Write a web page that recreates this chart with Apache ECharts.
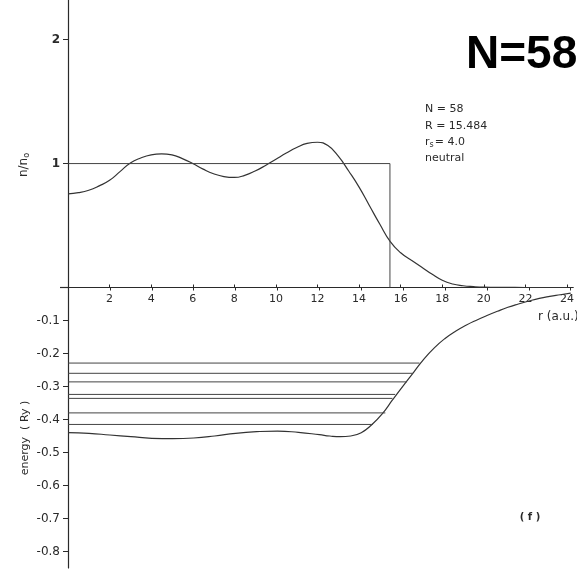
<!DOCTYPE html>
<html>
<head>
<meta charset="utf-8">
<script src="https://cdn.jsdelivr.net/npm/echarts@6/dist/echarts.min.js"></script>
<style>html,body{margin:0;padding:0;background:#fff}#c{width:577px;height:577px}</style>
</head>
<body>
<div id="c"></div>
<script>
// ---- data ----
const densityR   = [0, 0.5, 1, 1.5, 2, 2.5, 3, 3.5, 4, 4.5, 5, 5.5, 6, 6.5, 7, 7.5, 8, 8.5, 9, 9.5, 10, 10.5, 11, 11.5, 12, 12.5, 13, 13.5, 14, 14.5, 15, 15.5, 16, 16.5, 17, 17.5, 18, 18.5, 19, 19.5, 20, 21, 22, 23, 24];
const densityN   = [0.755, 0.765, 0.785, 0.82, 0.865, 0.935, 1.005, 1.045, 1.07, 1.078, 1.07, 1.04, 1.0, 0.955, 0.918, 0.895, 0.888, 0.905, 0.94, 0.985, 1.035, 1.085, 1.13, 1.163, 1.172, 1.145, 1.06, 0.94, 0.81, 0.66, 0.51, 0.37, 0.28, 0.222, 0.165, 0.108, 0.058, 0.028, 0.014, 0.007, 0.003, 0.001, 0, 0, 0];
const jelliumR   = 15.484;          // step edge R
const stepR      = [0, jelliumR, jelliumR];
const stepN      = [1, 1, 0];
const potentialR = [0, 1, 2, 3, 4, 5, 6, 7, 8, 9, 10, 11, 12, 12.5, 13, 13.5, 14, 14.5, 15, 15.5, 16, 16.5, 17, 17.5, 18, 18.5, 19, 19.5, 20, 20.5, 21, 21.5, 22, 22.5, 23, 23.5, 24];
const potentialE = [-0.440, -0.442, -0.447, -0.452, -0.457, -0.458, -0.456, -0.450, -0.442, -0.437, -0.435, -0.439, -0.446, -0.450, -0.452, -0.450, -0.440, -0.416, -0.383, -0.340, -0.298, -0.257, -0.216, -0.182, -0.1545, -0.1325, -0.1145, -0.099, -0.085, -0.072, -0.060, -0.050, -0.041, -0.033, -0.027, -0.022, -0.017];
const levelE     = [-0.229, -0.260, -0.286, -0.324, -0.336, -0.380, -0.415];
const levelEndR  = [16.78, 16.47, 16.18, 15.62, 15.49, 15.15, 14.56];
const rTicks     = [2, 4, 6, 8, 10, 12, 14, 16, 18, 20, 22, 24];
const nTicks     = [1, 2];
const eTicks     = [-0.1, -0.2, -0.3, -0.4, -0.5, -0.6, -0.7, -0.8];

// ---- build ----
const zip = (a, b) => a.map((v, i) => [v, b[i]]);
const levelData = [];
levelE.forEach((e, i) => { levelData.push([0, e], [levelEndR[i], e], '-'); });

const INK = '#2a2a2a';
const FONT = 'DejaVu Sans';
const chart = echarts.init(document.getElementById('c'), null, {renderer: 'canvas'});
chart.setOption({
  animation: false,
  backgroundColor: '#fff',
  grid: [
    {left: 68, top: 0, width: 510, height: 287.5},
    {left: 68, top: 287.5, width: 510, height: 280.5}
  ],
  xAxis: [
    {gridIndex: 0, type: 'value', min: 0, max: 24.3, position: 'bottom',
     axisLine: {show: true, onZero: false, lineStyle: {color: INK, width: 1.2}},
     axisTick: {show: true, inside: true, length: 3, customValues: rTicks, lineStyle: {color: INK, width: 1}},
     axisLabel: {show: true, customValues: rTicks, margin: 6, color: INK, fontFamily: FONT, fontSize: 11},
     splitLine: {show: false}},
    {gridIndex: 1, type: 'value', min: 0, max: 24.3, position: 'top',
     axisLine: {show: false, onZero: false},
     axisTick: {show: true, inside: true, length: 3, customValues: rTicks, lineStyle: {color: INK, width: 1}},
     axisLabel: {show: false},
     splitLine: {show: false}}
  ],
  yAxis: [
    {gridIndex: 0, type: 'value', min: 0, max: 2.32,
     axisLine: {show: true, onZero: false, lineStyle: {color: INK, width: 1.2}},
     axisTick: {show: true, length: 5, customValues: nTicks, lineStyle: {color: INK}},
     axisLabel: {show: true, customValues: nTicks, margin: 8, color: INK, fontFamily: FONT, fontSize: 12, fontWeight: 'bold'},
     splitLine: {show: false}},
    {gridIndex: 1, type: 'value', min: -0.85, max: 0,
     axisLine: {show: true, onZero: false, lineStyle: {color: INK, width: 1.2}},
     axisTick: {show: true, length: 5, customValues: eTicks, lineStyle: {color: INK}},
     axisLabel: {show: true, customValues: eTicks, margin: 8, color: INK, fontFamily: FONT, fontSize: 12,
                 formatter: v => v.toFixed(1)},
     splitLine: {show: false}}
  ],
  series: [
    {type: 'line', xAxisIndex: 0, yAxisIndex: 0, data: zip(densityR, densityN), smooth: 0.5,
     symbol: 'none', lineStyle: {color: '#333', width: 1.2}},
    {type: 'line', xAxisIndex: 0, yAxisIndex: 0, data: zip(stepR, stepN),
     symbol: 'none', lineStyle: {color: '#444', width: 1}},
    {type: 'line', xAxisIndex: 1, yAxisIndex: 1, data: zip(potentialR, potentialE), smooth: 0.5,
     symbol: 'none', lineStyle: {color: '#333', width: 1.2}},
    {type: 'line', xAxisIndex: 1, yAxisIndex: 1, data: levelData, connectNulls: false,
     symbol: 'none', lineStyle: {color: '#444', width: 1}}
  ],
  graphic: [
    {type: 'line', shape: {x1: 60, y1: 287.5, x2: 68, y2: 287.5}, style: {stroke: INK, lineWidth: 1.2}},
    {type: 'text', x: 466, y: 55, style: {text: 'N=58', fill: '#000', font: 'bold 46px "Liberation Sans"', verticalAlign: 'middle', align: 'left'}},
    {type: 'text', x: 425, y: 109.5, style: {text: 'N = 58', fill: INK, font: '11px "DejaVu Sans"', verticalAlign: 'middle', align: 'left'}},
    {type: 'text', x: 425, y: 126, style: {text: 'R = 15.484', fill: INK, font: '11px "DejaVu Sans"', verticalAlign: 'middle', align: 'left'}},
    {type: 'text', x: 425, y: 141.7, style: {text: '{a|r}{b|s}{a|= 4.0}', verticalAlign: 'middle', align: 'left',
      rich: {a: {fill: INK, fontFamily: FONT, fontSize: 11}, b: {fill: INK, fontFamily: FONT, fontSize: 8, padding: [6, 1, 0, 0]}}}},
    {type: 'text', x: 425, y: 158.3, style: {text: 'neutral', fill: INK, font: '11px "DejaVu Sans"', verticalAlign: 'middle', align: 'left'}},
    {type: 'text', x: 538, y: 317, style: {text: 'r (a.u.)', fill: INK, font: '12px "DejaVu Sans"', verticalAlign: 'middle', align: 'left'}},
    {type: 'text', x: 530, y: 517, style: {text: '( f )', fill: INK, font: 'bold 10px "DejaVu Sans"', verticalAlign: 'middle', align: 'center'}},
    {type: 'text', x: 24, y: 165, rotation: Math.PI / 2, style: {text: '{a|n/n}{b|o}', verticalAlign: 'middle', align: 'center',
      rich: {a: {fill: INK, fontFamily: FONT, fontSize: 12}, b: {fill: INK, fontFamily: FONT, fontSize: 8, padding: [6, 0, 0, 0]}}}},
    {type: 'text', x: 25, y: 438, rotation: Math.PI / 2, style: {text: 'energy  ( Ry )', fill: INK, font: '11px "DejaVu Sans"', verticalAlign: 'middle', align: 'center'}}
  ]
});
</script>
</body>
</html>
